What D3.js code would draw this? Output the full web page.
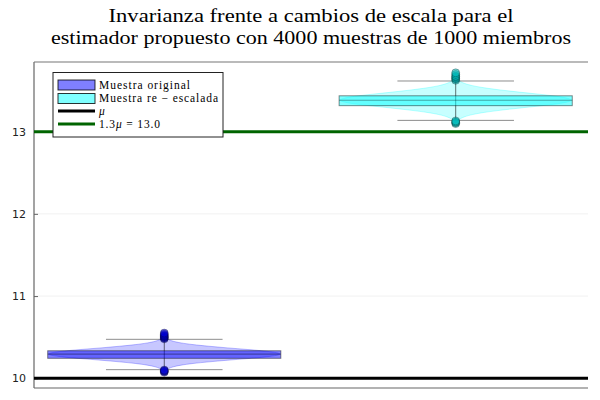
<!DOCTYPE html>
<html>
<head>
<meta charset="utf-8">
<script src="https://cdn.jsdelivr.net/npm/d3@7"></script>
<style>
  html, body { margin: 0; padding: 0; background: #fff; }
  svg { display: block; }
</style>
</head>
<body>
<svg id="chart" width="600" height="400"></svg>
<script>
// ---------------- DATA ----------------
const titleLines = ["Invarianza frente a cambios de escala para el",
                    "estimador propuesto con 4000 muestras de 1000 miembros"];
const categories = ["Muestra original", "Muestra re \u2212 escalada"];
const xPositions = [1, 2];
const seriesColors = ["#0000ff", "#00ffff"];
const pointColors = ["#0000cc", "#00b8b8"];
const q1 = [10.243, 13.316];
const medians = [10.294, 13.382];
const q3 = [10.335, 13.436];
const whiskerLow = [10.105, 13.137];
const whiskerHigh = [10.474, 13.616];
const outliers1 = [10.48, 10.49, 10.50, 10.51, 10.52, 10.535, 10.55, 10.075, 10.085, 10.09, 10.10];
const outliers2 = [13.625, 13.64, 13.65, 13.665, 13.675, 13.695, 13.715, 13.098, 13.11, 13.117, 13.13];
const violinValues1 = [10.08, 10.10, 10.12, 10.14, 10.16, 10.18, 10.20, 10.22, 10.24, 10.26, 10.28, 10.295,
                       10.31, 10.33, 10.35, 10.37, 10.39, 10.41, 10.43, 10.45, 10.47, 10.49, 10.51, 10.55];
const violinValues2 = [13.104, 13.13, 13.156, 13.182, 13.208, 13.234, 13.26, 13.286, 13.312, 13.338, 13.364, 13.3835,
                       13.403, 13.429, 13.455, 13.481, 13.507, 13.533, 13.559, 13.585, 13.611, 13.637, 13.663, 13.715];
const violinWidths = [0.0, 0.016, 0.036, 0.074, 0.14, 0.24, 0.38, 0.54, 0.72, 0.88, 0.976, 1.0,
                      0.976, 0.88, 0.72, 0.54, 0.38, 0.24, 0.14, 0.074, 0.036, 0.016, 0.007, 0.0];
const hlineValues = [10, 13];
const hlineColors = ["#000000", "#006400"];
const legendLabels = ["Muestra original", "Muestra re \u2212 escalada", "\u03bc", "1.3\u03bc = 13.0"];
const yTicks = [10, 11, 12, 13];

// ---------------- LAYOUT ----------------
const svg = d3.select("#chart");
const pLeft = 34, pRight = 588, pTop = 62, pBottom = 388;
const x = d3.scaleLinear().domain([0.553, 2.454]).range([pLeft, pRight]);
const y = d3.scaleLinear().domain([9.882, 13.847]).range([pBottom, pTop]);
const boxHalf = 0.4, capHalf = 0.2;

// grid
svg.append("g").selectAll("line").data(yTicks).join("line")
  .attr("x1", pLeft).attr("x2", pRight)
  .attr("y1", d => y(d)).attr("y2", d => y(d))
  .attr("stroke", "#000").attr("stroke-opacity", 0.1).attr("stroke-width", 0.6);

// y axis
const yAxis = d3.axisLeft(y).tickValues(yTicks).tickFormat(d3.format("d")).tickSizeInner(-4).tickSizeOuter(0).tickPadding(8);
const ga = svg.append("g").attr("transform", `translate(${pLeft},0)`).call(yAxis);
ga.select(".domain").remove();
ga.selectAll(".tick line").attr("stroke", "#000").attr("stroke-opacity", 0.6);
ga.selectAll(".tick text").attr("font-family", "DejaVu Sans, sans-serif").attr("font-size", 11).attr("fill", "#222");

// frame
svg.append("line").attr("x1", pLeft).attr("x2", pLeft).attr("y1", pTop).attr("y2", pBottom).attr("stroke", "#666").attr("stroke-width", 1.2);
svg.append("line").attr("x1", pLeft).attr("x2", pRight).attr("y1", pTop).attr("y2", pTop).attr("stroke", "#777").attr("stroke-width", 1.2);
svg.append("line").attr("x1", pLeft).attr("x2", pRight).attr("y1", pBottom).attr("y2", pBottom).attr("stroke", "#666").attr("stroke-width", 1.2);

// violins
const violinVals = [violinValues1, violinValues2];
const outlierSets = [outliers1, outliers2];
xPositions.forEach((xp, i) => {
  const pts = violinVals[i].map((v, j) => ({v, w: violinWidths[j]}));
  const area = d3.area()
    .y(d => y(d.v))
    .x0(d => x(xp - boxHalf * d.w))
    .x1(d => x(xp + boxHalf * d.w))
    .curve(d3.curveBasis);
  svg.append("path").datum(pts).attr("d", area)
    .attr("fill", seriesColors[i]).attr("fill-opacity", 0.22)
    .attr("stroke", seriesColors[i]).attr("stroke-opacity", 0.25).attr("stroke-width", 1);
});

// boxes
xPositions.forEach((xp, i) => {
  const g = svg.append("g");
  g.append("line").attr("x1", x(xp)).attr("x2", x(xp)).attr("y1", y(whiskerLow[i])).attr("y2", y(whiskerHigh[i]))
    .attr("stroke", "#000").attr("stroke-opacity", 0.55).attr("stroke-width", 1);
  [whiskerLow[i], whiskerHigh[i]].forEach(v => {
    g.append("line").attr("x1", x(xp - capHalf)).attr("x2", x(xp + capHalf)).attr("y1", y(v)).attr("y2", y(v))
      .attr("stroke", "#000").attr("stroke-opacity", 0.45).attr("stroke-width", 1);
  });
  g.append("rect").attr("x", x(xp - boxHalf)).attr("width", x(xp + boxHalf) - x(xp - boxHalf))
    .attr("y", y(q3[i])).attr("height", y(q1[i]) - y(q3[i]))
    .attr("fill", seriesColors[i]).attr("fill-opacity", 0.5)
    .attr("stroke", "#000").attr("stroke-opacity", 0.45).attr("stroke-width", 1);
  g.append("line").attr("x1", x(xp - boxHalf)).attr("x2", x(xp + boxHalf)).attr("y1", y(medians[i])).attr("y2", y(medians[i]))
    .attr("stroke", "#000").attr("stroke-opacity", 0.35).attr("stroke-width", 1.2);
  g.append("g").selectAll("circle").data(outlierSets[i]).join("circle")
    .attr("cx", x(xp)).attr("cy", d => y(d)).attr("r", 4)
    .attr("fill", pointColors[i]).attr("fill-opacity", 0.55)
    .attr("stroke", "#000").attr("stroke-opacity", 0.35).attr("stroke-width", 0.8);
});

// hlines
hlineValues.forEach((v, i) => {
  svg.append("line").attr("x1", pLeft).attr("x2", pRight).attr("y1", y(v)).attr("y2", y(v))
    .attr("stroke", hlineColors[i]).attr("stroke-width", 3);
});

// title
const titleWidths = [405, 520];
titleLines.forEach((t, i) => {
  svg.append("text").attr("x", (pLeft + pRight) / 2).attr("y", 22 + i * 22)
    .attr("text-anchor", "middle")
    .attr("font-family", "Liberation Serif, serif").attr("font-size", 18.5)
    .attr("textLength", titleWidths[i]).attr("lengthAdjust", "spacingAndGlyphs")
    .attr("fill", "#000").text(t);
});

// legend
const lg = svg.append("g");
lg.append("rect").attr("x", 53).attr("y", 72.5).attr("width", 170).attr("height", 64.5)
  .attr("fill", "#fff").attr("stroke", "#222").attr("stroke-width", 1);
const rowY = [85, 98.5, 111, 124];
const legendTextWidths = [91, 119, null, 61];
legendLabels.forEach((lab, i) => {
  if (i < 2) {
    lg.append("rect").attr("x", 58).attr("y", rowY[i] - 5).attr("width", 37).attr("height", 10)
      .attr("fill", seriesColors[i]).attr("fill-opacity", 0.5)
      .attr("stroke", "#000").attr("stroke-opacity", 0.8).attr("stroke-width", 1);
  } else {
    lg.append("line").attr("x1", 58).attr("x2", 95).attr("y1", rowY[i]).attr("y2", rowY[i])
      .attr("stroke", hlineColors[i - 2]).attr("stroke-width", 3);
  }
  const tx = lg.append("text").attr("x", 99).attr("y", rowY[i] + 3.5)
    .attr("font-family", "Liberation Serif, serif").attr("font-size", 11.5).attr("fill", "#000");
  if (legendTextWidths[i]) tx.attr("textLength", legendTextWidths[i]).attr("lengthAdjust", "spacing");
  if (i === 2) tx.attr("font-style", "italic").text(lab);
  else if (i === 3) {
    tx.append("tspan").text("1.3");
    tx.append("tspan").attr("font-style", "italic").text("\u03bc");
    tx.append("tspan").text(" = 13.0");
  } else tx.text(lab);
});
</script>
</body>
</html>
